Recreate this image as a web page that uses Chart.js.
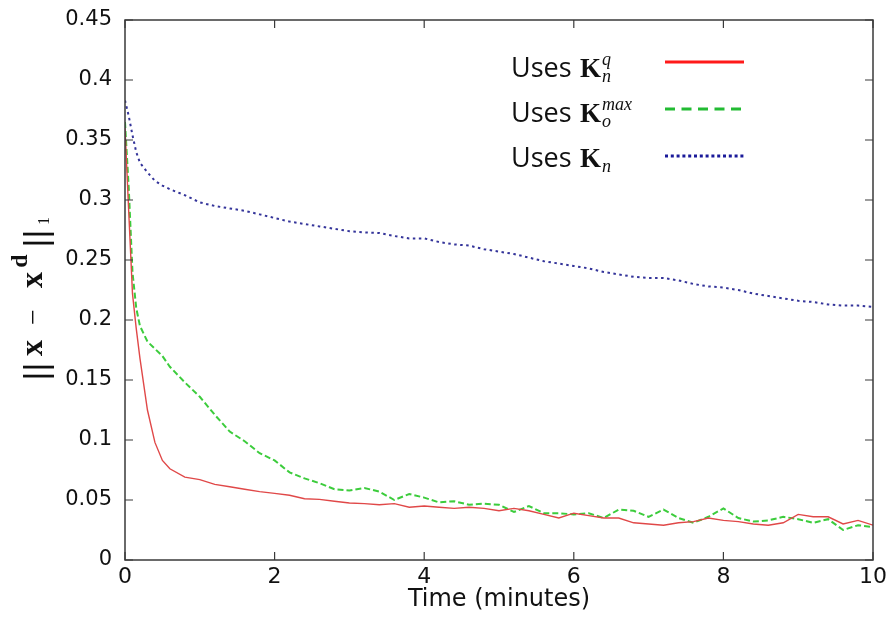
<!DOCTYPE html>
<html lang="en">

<head>
  <meta charset="UTF-8">
  <title>Error vs time</title>
  <script src="https://cdn.jsdelivr.net/npm/chart.js"></script>
  <style>
    html, body { margin: 0; padding: 0; background: #fff; }
    #chartContainer { width: 895px; height: 618px; }
  </style>
</head>

<body>
  <div id="chartContainer">
    <canvas id="errChart"></canvas>
  </div>

  <script>
    const times = [0, 0.05, 0.1, 0.15, 0.2, 0.3, 0.4, 0.5, 0.6, 0.8,
      1.0, 1.2, 1.4, 1.6, 1.8, 2.0, 2.2, 2.4, 2.6, 2.8,
      3.0, 3.2, 3.4, 3.6, 3.8, 4.0, 4.2, 4.4, 4.6, 4.8,
      5.0, 5.2, 5.4, 5.6, 5.8, 6.0, 6.2, 6.4, 6.6, 6.8,
      7.0, 7.2, 7.4, 7.6, 7.8, 8.0, 8.2, 8.4, 8.6, 8.8,
      9.0, 9.2, 9.4, 9.6, 9.8, 10.0];

    // Uses K_n^q
    const usesKnq = [0.36, 0.29, 0.222, 0.193, 0.168, 0.125, 0.098, 0.083, 0.076, 0.069,
      0.067, 0.063, 0.061, 0.059, 0.057, 0.0555, 0.054, 0.051, 0.0505, 0.049,
      0.0475, 0.047, 0.046, 0.047, 0.044, 0.045, 0.044, 0.043, 0.044, 0.043,
      0.041, 0.043, 0.041, 0.038, 0.035, 0.039, 0.037, 0.035, 0.035, 0.031,
      0.030, 0.029, 0.031, 0.032, 0.035, 0.033, 0.032, 0.030, 0.029, 0.031,
      0.038, 0.036, 0.036, 0.030, 0.033, 0.029];

    // Uses K_o^max
    const usesKomax = [0.365, 0.31, 0.24, 0.21, 0.195, 0.182, 0.176, 0.17, 0.161, 0.148,
      0.136, 0.121, 0.107, 0.099, 0.089, 0.083, 0.073, 0.068, 0.064, 0.059,
      0.058, 0.060, 0.057, 0.050, 0.055, 0.052, 0.048, 0.049, 0.046, 0.047,
      0.046, 0.040, 0.045, 0.039, 0.039, 0.038, 0.039, 0.035, 0.042, 0.041,
      0.036, 0.042, 0.035, 0.031, 0.036, 0.043, 0.035, 0.032, 0.033, 0.036,
      0.034, 0.031, 0.034, 0.025, 0.029, 0.0275];

    // Uses K_n
    const usesKn = [0.383, 0.37, 0.354, 0.34, 0.331, 0.323, 0.316, 0.312, 0.309, 0.304,
      0.298, 0.295, 0.293, 0.291, 0.288, 0.285, 0.282, 0.280, 0.278, 0.276,
      0.274, 0.273, 0.2725, 0.270, 0.268, 0.268, 0.265, 0.263, 0.262, 0.259,
      0.257, 0.255, 0.252, 0.249, 0.247, 0.245, 0.243, 0.240, 0.238, 0.236,
      0.235, 0.235, 0.233, 0.230, 0.228, 0.227, 0.225, 0.222, 0.220, 0.218,
      0.216, 0.215, 0.213, 0.212, 0.212, 0.211];

    const toPoints = ys => ys.map((y, i) => ({ x: times[i], y: y }));

    const FRAME = '#3a3a3a';
    const TEXT = '#111';

    // gnuplot style frame with inward ticks on all four sides
    const framePlugin = {
      id: 'frame',
      afterDatasetsDraw(chart) {
        const { ctx, chartArea: a, scales } = chart;
        ctx.save();
        ctx.strokeStyle = FRAME;
        ctx.lineWidth = 1.5;
        ctx.strokeRect(a.left, a.top, a.right - a.left, a.bottom - a.top);
        ctx.lineWidth = 1.2;
        ctx.beginPath();
        scales.y.ticks.forEach(t => {
          const py = scales.y.getPixelForValue(t.value);
          ctx.moveTo(a.left, py); ctx.lineTo(a.left + 8, py);
          ctx.moveTo(a.right, py); ctx.lineTo(a.right - 8, py);
        });
        scales.x.ticks.forEach(t => {
          const px = scales.x.getPixelForValue(t.value);
          ctx.moveTo(px, a.bottom); ctx.lineTo(px, a.bottom - 8);
          ctx.moveTo(px, a.top); ctx.lineTo(px, a.top + 8);
        });
        ctx.stroke();
        ctx.restore();
      }
    };

    // y axis title ||x - x^d||_1 and the legend with math labels
    const labelsPlugin = {
      id: 'mathLabels',
      afterDraw(chart) {
        const ctx = chart.ctx;
        ctx.save();
        ctx.fillStyle = TEXT;
        ctx.textBaseline = 'alphabetic';
        ctx.textAlign = 'center';

        // y title, rotated
        ctx.save();
        ctx.translate(42, 297);
        ctx.rotate(-Math.PI / 2);
        const bar = "34px 'Liberation Sans'";
        const bx = "bold 32px 'Liberation Serif'";
        ctx.font = bar; ctx.fillText('|', -79, 5); ctx.fillText('|', -70, 5);
        ctx.font = bx; ctx.fillText('x', -51, 0);
        ctx.font = "28px 'Liberation Serif'"; ctx.fillText('\u2212', -20, 0);
        ctx.font = bx; ctx.fillText('x', 17, 0);
        ctx.font = "bold 24px 'Liberation Serif'"; ctx.fillText('d', 36, -15);
        ctx.font = bar; ctx.fillText('|', 54, 5); ctx.fillText('|', 63, 5);
        ctx.font = "16px 'Liberation Serif'"; ctx.fillText('1', 76, 7);
        ctx.restore();

        // legend
        ctx.textAlign = 'left';
        const rows = [
          { y: 77, sup: 'q', sub: 'n', color: '#ff1a1a', dash: [], lineY: 62 },
          { y: 122, sup: 'max', sub: 'o', color: '#22bb33', dash: [10, 6.5], lineY: 109 },
          { y: 167, sup: '', sub: 'n', color: '#1a1a99', dash: [3, 2.8], lineY: 156 }
        ];
        rows.forEach(r => {
          ctx.font = "27px 'Open Sans'";
          ctx.fillText('Uses', 511, r.y);
          ctx.font = "bold 27px 'Liberation Serif'";
          ctx.fillText('K', 580, r.y);
          ctx.font = "italic 18px 'Liberation Serif'";
          if (r.sup) ctx.fillText(r.sup, 602, r.y - 12);
          ctx.fillText(r.sub, 602, r.y + 5);
          ctx.save();
          ctx.strokeStyle = r.color;
          ctx.lineWidth = 3;
          ctx.setLineDash(r.dash);
          ctx.beginPath();
          ctx.moveTo(665, r.lineY);
          ctx.lineTo(744, r.lineY);
          ctx.stroke();
          ctx.restore();
        });
        ctx.restore();
      }
    };

    const ctx = document.getElementById('errChart').getContext('2d');
    new Chart(ctx, {
      type: 'line',
      data: {
        datasets: [
          {
            label: 'Uses Kn^q',
            data: toPoints(usesKnq),
            borderColor: '#e04848',
            borderWidth: 1.4,
            pointRadius: 0,
            tension: 0
          },
          {
            label: 'Uses Ko^max',
            data: toPoints(usesKomax),
            borderColor: '#3ccc3c',
            borderWidth: 2,
            borderDash: [6, 3],
            pointRadius: 0,
            tension: 0
          },
          {
            label: 'Uses Kn',
            data: toPoints(usesKn),
            borderColor: '#34349a',
            borderWidth: 2,
            borderDash: [2.5, 3.5],
            pointRadius: 0,
            tension: 0
          }
        ]
      },
      options: {
        responsive: true,
        maintainAspectRatio: false,
        animation: false,
        layout: { padding: { top: 20, right: 22, left: 0, bottom: 0 } },
        plugins: {
          legend: { display: false },
          tooltip: { enabled: false }
        },
        scales: {
          x: {
            type: 'linear',
            min: 0,
            max: 10,
            grid: { display: false, drawTicks: false },
            border: { display: false },
            ticks: {
              stepSize: 2,
              padding: 4,
              color: TEXT,
              font: { family: 'DejaVu Sans', size: 22 },
              maxRotation: 0
            },
            title: {
              display: true,
              text: 'Time (minutes)',
              color: TEXT,
              font: { family: 'DejaVu Sans', size: 24 },
              padding: { top: 0, bottom: 4 }
            },
            afterFit(scale) {
              scale.height = 58;
              scale.paddingLeft = 0;
              scale.paddingRight = 0;
            }
          },
          y: {
            min: 0,
            max: 0.45,
            grid: { display: false, drawTicks: false },
            border: { display: false },
            ticks: {
              stepSize: 0.05,
              padding: 13,
              color: TEXT,
              font: { family: 'DejaVu Sans', size: 21 },
              callback: v => String(parseFloat(v.toFixed(2)))
            },
            afterFit(scale) {
              scale.width = 125;
              scale.paddingTop = 0;
              scale.paddingBottom = 0;
            }
          }
        }
      },
      plugins: [framePlugin, labelsPlugin]
    });
  </script>
</body>

</html>
